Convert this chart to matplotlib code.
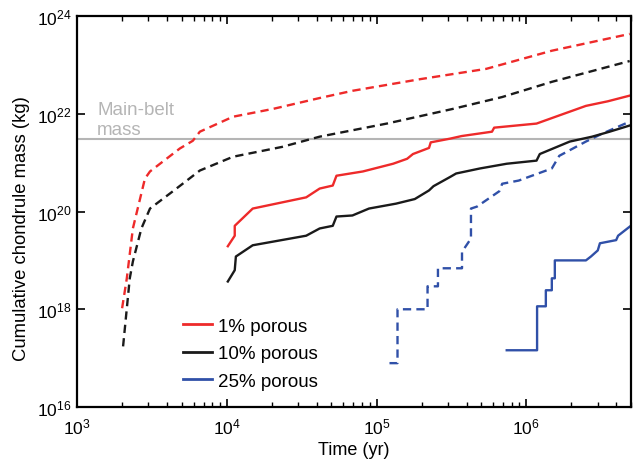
import matplotlib
matplotlib.use('Agg')
import matplotlib.pyplot as plt
from matplotlib.lines import Line2D
import numpy as np

plt.rcParams['font.family'] = ['Liberation Sans', 'DejaVu Sans']
plt.rcParams['mathtext.fontset'] = 'custom'
plt.rcParams['mathtext.rm'] = 'Liberation Sans'

RED = '#ee2a2a'
BLACK = '#1a1a1a'
BLUE = '#3050a8'
GREY = '#b5b5b5'

# time (yr) / cumulative mass (kg), dashed = upper curves, solid = lower curves
t_red_dash = [2000, 2150, 2360, 2840, 3070, 4860, 5930, 6610, 1.1e4, 2.04e4, 4.17e4,
              6.9e4, 1.95e5, 5.4e5, 1.48e6, 4.9e6]
m_red_dash = [1.05e18, 4.3e18, 4.5e19, 4.7e20, 6.6e20, 1.95e21, 2.8e21, 4.3e21, 8.7e21,
              1.26e22, 2.1e22, 2.95e22, 5.1e22, 8.3e22, 1.95e23, 4.3e23]

t_blk_dash = [2030, 2250, 2360, 2690, 3070, 4370, 6610, 1.1e4, 2.34e4, 4.17e4, 1.17e5,
              3.24e5, 6.9e5, 1.48e6, 4.9e6]
m_blk_dash = [1.74e17, 4.3e18, 9.5e18, 4.5e19, 1.15e20, 2.6e20, 6.9e20, 1.32e21, 2.1e21,
              3.4e21, 6.3e21, 1.26e22, 2.2e22, 4.5e22, 1.2e23]

t_red = [1.016e4, 1.13e4, 1.13e4, 1.49e4, 3.39e4, 4.17e4, 5.1e4, 5.4e4, 8.1e4, 1.29e5,
         1.6e5, 1.75e5, 2.24e5, 2.3e5, 3.1e5, 3.7e5, 5.9e5, 6.1e5, 1.17e6, 1.7e6,
         2.5e6, 3.5e6, 4.9e6]
m_red = [1.95e19, 3.2e19, 5.1e19, 1.15e20, 1.95e20, 2.95e20, 3.4e20, 5.4e20, 6.6e20,
         9.5e20, 1.2e21, 1.5e21, 2.0e21, 2.6e21, 3.1e21, 3.5e21, 4.3e21, 5.2e21, 6.3e21,
         9.5e21, 1.45e22, 1.8e22, 2.35e22]

t_blk = [1.016e4, 1.13e4, 1.15e4, 1.49e4, 3.39e4, 4.17e4, 5.1e4, 5.4e4, 6.9e4, 8.9e4,
         1.35e5, 1.8e5, 2.24e5, 2.4e5, 3.1e5, 3.4e5, 4.9e5, 7.4e5, 1.17e6, 1.23e6,
         1.95e6, 2.75e6, 3.6e6, 4.9e6]
m_blk = [3.7e18, 6.3e18, 1.2e19, 2.04e19, 3.2e19, 4.5e19, 5.1e19, 7.9e19, 8.3e19, 1.15e20,
         1.45e20, 1.8e20, 2.7e20, 3.3e20, 5.1e20, 6.0e20, 7.6e20, 9.5e20, 1.1e21, 1.5e21,
         2.7e21, 3.4e21, 4.3e21, 5.75e21]

t_blue_dash = [1.22e5, 1.38e5, 1.38e5, 2.19e5, 2.19e5, 2.57e5, 2.57e5, 3.72e5, 3.72e5,
               4.27e5, 4.27e5, 4.68e5, 6.6e5, 6.9e5, 8.9e5, 1.48e6, 1.66e6, 2.5e6,
               3.2e6, 4.9e6]
m_blue_dash = [7.9e16, 7.9e16, 1.0e18, 1.0e18, 2.95e18, 2.95e18, 6.9e18, 6.9e18, 1.5e19,
               2.8e19, 1.15e20, 1.26e20, 2.6e20, 3.7e20, 4.3e20, 7.6e20, 1.38e21, 2.7e21,
               3.9e21, 6.9e21]

t_blue = [7.4e5, 1.18e6, 1.18e6, 1.35e6, 1.35e6, 1.48e6, 1.48e6, 1.55e6, 1.55e6, 2.5e6,
          2.7e6, 3.0e6, 3.1e6, 3.98e6, 4.1e6, 4.9e6]
m_blue = [1.45e17, 1.45e17, 1.15e18, 1.15e18, 2.45e18, 2.45e18, 4.3e18, 4.3e18, 1.0e19,
          1.0e19, 1.2e19, 1.6e19, 2.24e19, 2.6e19, 3.2e19, 4.9e19]

main_belt = 3.0e21
labels = ['1% porous', '10% porous', '25% porous']

fig = plt.figure(figsize=(6.35, 4.6), dpi=100)
ax = fig.add_axes([0.1213, 0.113, 0.8724, 0.85])

ax.axhline(main_belt, color=GREY, lw=1.5, zorder=1)
ax.text(1.36e3, 3.9e21, 'Main-belt\nmass', color=GREY, fontsize=13.5,
        va='baseline', ha='left', linespacing=1.2)

dash = (0, (3.5, 2.2))
lw = 1.7
ax.plot(t_red_dash, m_red_dash, color=RED, lw=lw, ls=dash)
ax.plot(t_blk_dash, m_blk_dash, color=BLACK, lw=lw, ls=dash)
ax.plot(t_blue_dash, m_blue_dash, color=BLUE, lw=lw, ls=dash)
ax.plot(t_red, m_red, color=RED, lw=lw)
ax.plot(t_blk, m_blk, color=BLACK, lw=lw)
ax.plot(t_blue, m_blue, color=BLUE, lw=lw)

ax.set_xscale('log')
ax.set_yscale('log')
ax.set_xlim(1e3, 5e6)
ax.set_ylim(1e16, 1e24)

ax.set_xticks([1e3, 1e4, 1e5, 1e6])
ax.set_xticklabels([r'$\mathregular{10^{%d}}$' % e for e in [3, 4, 5, 6]])
yexp = [16, 18, 20, 22, 24]
ax.set_yticks([10.0 ** e for e in yexp])
ax.set_yticklabels([r'$\mathregular{10^{%d}}$' % e for e in yexp])
ax.yaxis.set_minor_locator(matplotlib.ticker.NullLocator())
ax.xaxis.set_minor_locator(matplotlib.ticker.LogLocator(base=10, subs=np.arange(2, 10)))
ax.xaxis.set_minor_formatter(matplotlib.ticker.NullFormatter())

ax.tick_params(which='both', direction='in', top=True, right=True, labelsize=12.5)
ax.tick_params(axis='y', pad=4)
ax.tick_params(axis='x', pad=7)
ax.tick_params(which='major', length=6, width=1.2)
ax.tick_params(which='minor', length=3.5, width=1.0)
for s in ax.spines.values():
    s.set_linewidth(1.6)

ax.set_xlabel('Time (yr)', fontsize=13, labelpad=3)
ax.set_ylabel('Cumulative chondrule mass (kg)', fontsize=13.3, labelpad=3)
ax.yaxis.set_label_coords(-0.085, 0.46)

handles = [Line2D([], [], color=c, lw=2) for c in (RED, BLACK, BLUE)]
ax.legend(handles, labels, loc='upper left', bbox_to_anchor=(0.191, 0.228), frameon=False,
          fontsize=13.5, handlelength=1.55, handletextpad=0.35, labelspacing=0.55,
          borderpad=0, borderaxespad=0)

fig.savefig('out.png', dpi=100)
